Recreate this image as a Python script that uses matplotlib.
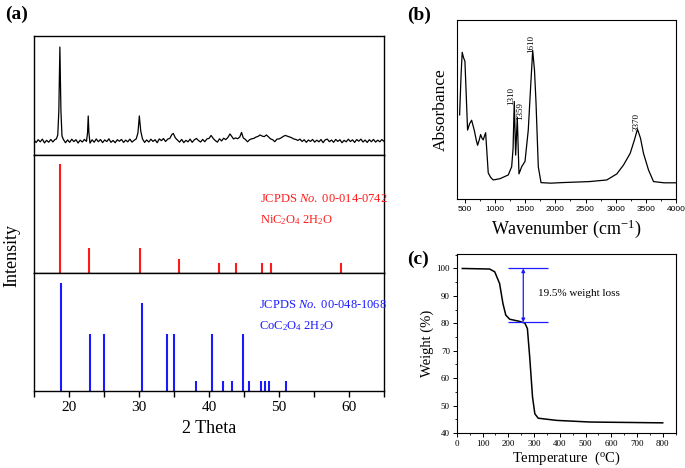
#Importing libraries
import numpy as np
import matplotlib
matplotlib.use('Agg')
import matplotlib.pyplot as plt
from matplotlib.ticker import MultipleLocator, NullLocator

plt.rcParams['font.family'] = ['Liberation Serif', 'DejaVu Serif']
plt.rcParams['mathtext.fontset'] = 'custom'
plt.rcParams['mathtext.rm'] = 'Liberation Serif'
plt.rcParams['mathtext.it'] = 'Liberation Serif:italic'

#XRD pattern of the sample (2 theta, intensity)
xrd_2theta = [15.0, 15.3, 15.6, 15.9, 16.2, 16.5, 16.8, 17.1, 17.4, 17.7, 18.0, 18.2, 18.4, 18.55, 18.7,
              18.85, 19.0, 19.2, 19.5, 19.8, 20.1, 20.4, 20.7, 21.0, 21.3, 21.6, 21.9, 22.2, 22.5, 22.65,
              22.75, 22.85, 23.0, 23.3, 23.6, 23.9, 24.2, 24.5, 24.8, 25.1, 25.4, 25.7, 26.0, 26.3, 26.6,
              26.9, 27.2, 27.5, 27.8, 28.1, 28.4, 28.7, 29.0, 29.3, 29.6, 29.85, 30.05, 30.25, 30.5, 30.8,
              31.1, 31.4, 31.7, 32.0, 32.3, 32.6, 32.9, 33.2, 33.5, 33.8, 34.1, 34.4, 34.7, 34.9, 35.2,
              35.5, 35.8, 36.1, 36.4, 36.7, 37.0, 37.3, 37.6, 37.9, 38.2, 38.5, 38.8, 39.1, 39.4, 39.7,
              40.0, 40.3, 40.6, 40.9, 41.2, 41.5, 41.8, 42.1, 42.4, 42.7, 43.0, 43.2, 43.5, 43.8, 44.1,
              44.4, 44.65, 44.9, 45.2, 45.5, 45.8, 46.1, 46.4, 46.7, 47.0, 47.3, 47.6, 47.9, 48.2, 48.5,
              48.8, 49.1, 49.4, 49.7, 50.0, 50.3, 50.6, 50.9, 51.2, 51.5, 51.8, 52.1, 52.4, 52.7, 53.0,
              53.3, 53.6, 53.9, 54.2, 54.5, 54.8, 55.1, 55.4, 55.7, 56.0, 56.3, 56.6, 56.9, 57.2, 57.5,
              57.8, 58.1, 58.4, 58.7, 59.0, 59.3, 59.6, 59.9, 60.2, 60.5, 60.8, 61.1, 61.4, 61.7, 62.0,
              62.3, 62.6, 62.9, 63.2, 63.5, 63.8, 64.1, 64.4, 64.7, 65.0]
xrd_counts = [0.8, -1.6, 1.2, -0.9, 1.8, -2.0, 0.6, -1.3, 1.5, -1.0, 1.4, 2.0, 6.0, 30.0, 94.0,
              30.0, 5.0, 1.5, -1.8, 1.0, -1.4, 1.7, -0.7, 1.2, -2.1, 0.8, -1.1, 1.5, -0.5, 8.0,
              25.0, 8.0, -2.2, 1.1, -1.3, 2.0, -0.8, 1.4, -1.7, 1.0, -0.6, 2.1, -1.4, 0.5, -1.8,
              1.2, -0.3, 1.5, -1.5, 0.8, -0.9, 1.8, -1.2, 0.6, 2.0, 8.0, 25.0, 10.0, 2.0, -1.5,
              1.0, -1.1, 1.7, -0.5, 1.2, -1.8, 2.0, 0.3, 2.4, -0.6, 1.8, 2.5, 6.5, 7.5, 3.0,
              0.8, -1.2, 1.5, -1.7, 0.6, -0.9, 1.8, -1.4, 1.1, 2.5, 0.4, -1.1, 1.5, -0.8, 2.0,
              2.5, 5.5, 2.5, 0.3, -1.2, 2.1, 0.0, 2.7, 1.3, 3.5, 7.0, 5.0, 2.0, 3.0, 2.2,
              4.0, 8.5, 3.0, 1.5, -0.9, 1.2, 2.2, 2.5, 3.8, 4.5, 6.0, 4.8, 4.3, 6.0, 4.0,
              2.0, 1.2, -0.8, 1.8, 2.0, 3.0, 4.5, 5.5, 4.8, 4.0, 3.2, 2.0, 1.5, 0.5, 1.8,
              -0.6, 1.2, -1.4, 0.9, -0.5, 1.5, -1.2, 0.8, -0.9, 1.4, -1.7, 1.1, 1.8, -0.8, 0.9,
              -1.4, 1.5, -0.5, 1.2, -1.8, 0.6, -0.9, 1.7, -0.6, 1.1, -1.5, 1.4, -0.3, 1.8, -1.1,
              0.9, -1.5, 1.2, -0.8, 1.5, -1.2, 0.8, -0.9, 1.4, -0.5]

#Standard card NiC2O4 2H2O (JCPDS 00-014-0742)
ni_2theta = [18.76, 22.8, 30.19, 35.7, 41.4, 43.8, 47.6, 48.8, 58.8]
ni_intensity = [100, 23, 23, 13, 9, 9, 9, 9, 9]

#Standard card CoC2O4 2H2O (JCPDS 00-048-1068)
co_2theta = [18.8, 22.95, 25.05, 30.43, 33.96, 35.0, 38.14, 40.43, 42.0, 43.33, 44.86, 45.67,
             47.38, 48.0, 48.52, 51.0]
co_intensity = [100, 53, 53, 81, 53, 53, 9, 53, 9, 9, 53, 9, 9, 9, 9, 9]

#FTIR spectrum
ftir_wavenumber = [415, 440, 458, 480, 503, 519, 547, 580, 614, 657, 690, 713, 740, 763, 785, 806,
                   825, 846, 867, 889, 930, 972, 1083, 1221, 1277, 1300, 1320, 1343, 1370, 1398,
                   1443, 1498, 1552, 1590, 1625, 1655, 1680, 1718, 1763, 1923, 2100, 2570, 2853,
                   3019, 3130, 3240, 3310, 3360, 3410, 3460, 3543, 3626, 3800, 4000]
ftir_absorbance = [0.47, 0.70, 0.82, 0.79, 0.77, 0.63, 0.385, 0.42, 0.44, 0.385, 0.33, 0.30, 0.33,
                   0.36, 0.34, 0.33, 0.35, 0.37, 0.26, 0.145, 0.12, 0.106, 0.113, 0.134, 0.18,
                   0.28, 0.545, 0.245, 0.456, 0.14, 0.18, 0.21, 0.385, 0.62, 0.83, 0.72, 0.54,
                   0.18, 0.091, 0.088, 0.091, 0.097, 0.106, 0.14, 0.19, 0.255, 0.33, 0.39, 0.34,
                   0.255, 0.162, 0.097, 0.09, 0.09]
ftir_peaks = ['1310', '1359', '1610', '3370']
ftir_label_pos = [(1275, 0.575), (1420, 0.49), (1607, 0.865), (3352, 0.43)]

#TGA curve
tga_temp = [21, 127, 147, 166, 179, 190, 205, 244, 264, 274, 283, 294, 303, 316, 387, 517, 800]
tga_weight = [100, 99.8, 98.8, 94.5, 87.2, 83, 81.5, 80.7, 80.1, 78.1, 67.7, 53.1, 47, 45.4,
              44.6, 44.0, 43.7]
loss_top = 100
loss_bottom = 80.4

fig = plt.figure(figsize=(6.85, 4.68), dpi=100)

#Panel (a): three stacked axes
ax_xrd = fig.add_axes([0.0496, 0.669, 0.511, 0.254])
ax_ni = fig.add_axes([0.0496, 0.4167, 0.511, 0.2523])
ax_co = fig.add_axes([0.0496, 0.1645, 0.511, 0.2522])

ax_xrd.plot(xrd_2theta, xrd_counts, color='black', lw=0.9)
ax_xrd.set_ylim(-14, 105)

ax_ni.vlines(ni_2theta, 0, ni_intensity, color='#ff1a1a', lw=1.5)
ax_ni.set_ylim(0, 108)
ax_ni.text(47.3, 68, r'JCPDS $\mathit{No.}$ 00-014-0742', color='#ff1a1a', fontsize=9, va='center')
ax_ni.text(47.3, 48, r'NiC$_2$O$_4$ 2H$_2$O', color='#ff1a1a', fontsize=9, va='center')

ax_co.vlines(co_2theta, 0, co_intensity, color='#1a1aff', lw=1.5)
ax_co.set_ylim(0, 109)
ax_co.text(47.1, 79, r'JCPDS $\mathit{No.}$ 00-048-1068', color='#1a1aff', fontsize=9, va='center')
ax_co.text(47.1, 60, r'CoC$_2$O$_4$ 2H$_2$O', color='#1a1aff', fontsize=9, va='center')

for ax in [ax_xrd, ax_ni, ax_co]:
    ax.set_xlim(15, 65)
    ax.yaxis.set_major_locator(NullLocator())
    for s in ax.spines.values():
        s.set_linewidth(1.0)
for ax in [ax_xrd, ax_ni]:
    ax.xaxis.set_major_locator(NullLocator())

ax_co.xaxis.set_major_locator(MultipleLocator(10))
ax_co.xaxis.set_minor_locator(MultipleLocator(5))
ax_co.tick_params(axis='x', which='both', direction='out', length=4, width=1.0, labelsize=11)
ax_co.set_xlabel('2 Theta', fontsize=13, labelpad=4)
fig.text(0.017, 0.455, 'Intensity', rotation=90, fontsize=13, ha='center', va='center')
fig.text(0.008, 0.97, '(a)', fontsize=14, fontweight='bold', va='center')

#Panel (b): FTIR
ax_ir = fig.add_axes([0.667, 0.575, 0.320, 0.382])
ax_ir.plot(ftir_wavenumber, ftir_absorbance, color='black', lw=0.9)
ax_ir.set_xlim(370, 4000)
ax_ir.set_ylim(0, 1)
ax_ir.yaxis.set_major_locator(NullLocator())
ax_ir.xaxis.set_major_locator(MultipleLocator(500))
ax_ir.xaxis.set_minor_locator(MultipleLocator(250))
ax_ir.tick_params(axis='x', which='major', direction='out', length=3, width=0.7, labelsize=6, pad=2)
ax_ir.tick_params(axis='x', which='minor', direction='out', length=1.5, width=0.6)
for lab in ax_ir.get_xticklabels():
    lab.set_family('Liberation Sans')
for s in ax_ir.spines.values():
    s.set_linewidth(0.8)
for name, (px, py) in zip(ftir_peaks, ftir_label_pos):
    ax_ir.text(px, py, name, rotation=90, fontsize=6.5, ha='center', va='center')
ax_ir.set_xlabel(r'Wavenumber (cm$^{-1}$)', fontsize=13, labelpad=3)
ax_ir.set_ylabel('Absorbance', fontsize=12.5, labelpad=6)
fig.text(0.594, 0.968, '(b)', fontsize=14, fontweight='bold', va='center')

#Panel (c): TGA
ax_tg = fig.add_axes([0.667, 0.0748, 0.320, 0.382])
ax_tg.plot(tga_temp, tga_weight, color='black', lw=1.1)
ax_tg.set_xlim(0, 852)
ax_tg.set_ylim(40, 105.2)
ax_tg.xaxis.set_major_locator(MultipleLocator(100))
ax_tg.xaxis.set_minor_locator(MultipleLocator(50))
ax_tg.yaxis.set_major_locator(MultipleLocator(10))
ax_tg.yaxis.set_minor_locator(MultipleLocator(5))
ax_tg.tick_params(which='major', direction='out', length=3, width=0.7, labelsize=6.5, pad=2)
ax_tg.tick_params(which='minor', direction='out', length=1.5, width=0.6)
for s in ax_tg.spines.values():
    s.set_linewidth(0.8)
ax_tg.hlines([loss_top, loss_bottom], 200, 353, color='#1a1aff', lw=0.9)
ax_tg.annotate('', xy=(258, loss_bottom), xytext=(258, loss_top),
               arrowprops=dict(arrowstyle='<|-|>', color='#1a1aff', lw=0.9, mutation_scale=5,
                               shrinkA=0, shrinkB=0))
ax_tg.text(314, 90.8, '19.5% weight loss', fontsize=8, va='center')
ax_tg.set_xlabel(r'Temperature  ($^{\rm o}$C)', fontsize=10.5, labelpad=1)
ax_tg.set_ylabel('Weight (%)', fontsize=10.5, labelpad=2)
fig.text(0.594, 0.445, '(c)', fontsize=14, fontweight='bold', va='center')

plt.savefig('out.png', dpi=100)
